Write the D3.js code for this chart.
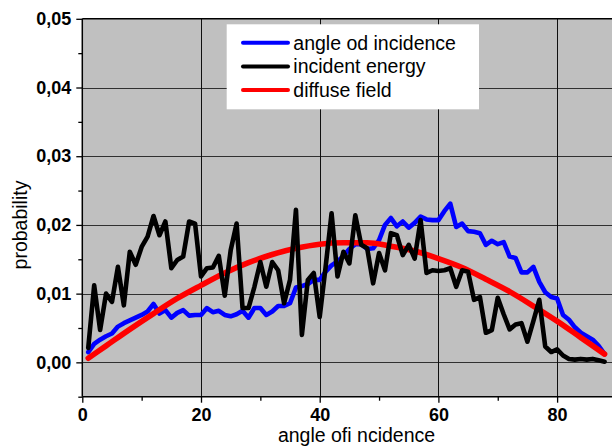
<!DOCTYPE html>
<html>
<head>
<meta charset="utf-8">
<script src="https://cdn.jsdelivr.net/npm/d3@7"></script>
<style>
  body { margin: 0; background: #fff; }
  svg { display: block; font-family: "Liberation Sans", Arial, sans-serif; }
</style>
</head>
<body>
<svg id="chart" width="612" height="447"></svg>
<script>
// DATA SECTION

// angles 1..88 degrees
const angles = d3.range(1, 89);

// angle od incidence (blue)
const angleOd = [
  0.0015, 0.0027, 0.0033, 0.0038, 0.0042, 0.0052, 0.0057, 0.0061, 0.0065, 0.0069,
  0.0074, 0.0085, 0.0071, 0.0076, 0.0065, 0.0072, 0.0076, 0.0068, 0.0069, 0.0069,
  0.0079, 0.0073, 0.0075, 0.0069, 0.0067, 0.0070, 0.0075, 0.0065, 0.0079, 0.0079,
  0.0069, 0.0074, 0.0082, 0.0082, 0.0086, 0.0109, 0.0111, 0.0114, 0.0120, 0.0120,
  0.0132, 0.0141, 0.0147, 0.0155, 0.0165, 0.0172, 0.0172, 0.0165, 0.0166, 0.0178,
  0.0200, 0.0210, 0.0198, 0.0205, 0.0196, 0.0203, 0.0212, 0.0208, 0.0207, 0.0207,
  0.0220, 0.0231, 0.0197, 0.0202, 0.0191, 0.0190, 0.0188, 0.0171, 0.0177, 0.0172,
  0.0175, 0.0154, 0.0152, 0.0131, 0.0131, 0.0139, 0.0117, 0.0102, 0.0095, 0.0093,
  0.0069, 0.0062, 0.0051, 0.0043, 0.0038, 0.0033, 0.0024, 0.0012
];

// incident energy (black)
const incidentEnergy = [
  0.0021, 0.0112, 0.0047, 0.0100, 0.0088, 0.0139, 0.0083, 0.0161, 0.0142, 0.0168,
  0.0183, 0.0213, 0.0185, 0.0205, 0.0137, 0.0149, 0.0154, 0.0205, 0.0202, 0.0125,
  0.0137, 0.0138, 0.0155, 0.0097, 0.0163, 0.0202, 0.0079, 0.0079, 0.0110, 0.0146,
  0.0110, 0.0146, 0.0134, 0.0086, 0.0120, 0.0222, 0.0040, 0.0120, 0.0130, 0.0066,
  0.0139, 0.0217, 0.0125, 0.0161, 0.0144, 0.0214, 0.0171, 0.0166, 0.0115, 0.0159,
  0.0134, 0.0188, 0.0185, 0.0156, 0.0171, 0.0151, 0.0207, 0.0130, 0.0134, 0.0133,
  0.0134, 0.0137, 0.0110, 0.0134, 0.0132, 0.0091, 0.0095, 0.0043, 0.0047, 0.0094,
  0.0070, 0.0048, 0.0055, 0.0057, 0.0030, 0.0060, 0.0091, 0.0023, 0.0015, 0.0019,
  0.0010, 0.0005, 0.0004, 0.0005, 0.0004, 0.0005, 0.0003, 0.0001
];

// diffuse field (red), read at every 4 degrees
const diffuseAngles = [1, 4, 8, 12, 16, 20, 24, 28, 32, 36, 40, 44, 48, 52, 56, 60, 64, 68, 72, 76, 80, 84, 88];
const diffuseField = [
  0.0006, 0.0024, 0.0048, 0.0071, 0.0093, 0.0112, 0.0130, 0.0145, 0.0157, 0.0166,
  0.0172, 0.0174, 0.0174, 0.0169, 0.0162, 0.0151, 0.0138, 0.0121, 0.0103, 0.0082,
  0.0060, 0.0036, 0.0012
];

const xTicks = [0, 20, 40, 60, 80];
const xMinor = [10, 30, 50, 70];
const yTicks = [0, 0.01, 0.02, 0.03, 0.04, 0.05];
const yMinor = [-0.005, 0.005, 0.015, 0.025, 0.035, 0.045];

const seriesNames = ['angle od incidence', 'incident energy', 'diffuse field'];
const seriesColors = ['#0000ff', '#000000', '#ff0000'];


// RENDER SECTION

const svg = d3.select('#chart');

let x = d3.scaleLinear()
  .domain([0, 90])
  .range([82.3, 82.3 + 90 * 5.935]);

let y = d3.scaleLinear()
  .domain([-0.005, 0.05])
  .range([396.7, 18.8]);

const comma = d3.formatLocale({decimal: ',', thousands: '.', grouping: [3], currency: ['', '']});

// plot background
svg.append('rect')
  .attr('x', x(0))
  .attr('y', y(0.05))
  .attr('width', x.range()[1] - x(0))
  .attr('height', y(-0.005) - y(0.05))
  .attr('fill', '#c0c0c0');

// grid
svg.append('g')
  .attr('class', 'grid-y')
  .selectAll('line')
  .data(yTicks.slice(0, -1))
  .enter().append('line')
  .attr('x1', x(0))
  .attr('x2', x.range()[1])
  .attr('y1', d => Math.round(y(d)) + 0.5)
  .attr('y2', d => Math.round(y(d)) + 0.5)
  .attr('stroke', '#303030')
  .attr('stroke-width', 1.2);

svg.append('g')
  .attr('class', 'grid-x')
  .selectAll('line')
  .data(xTicks.slice(1))
  .enter().append('line')
  .attr('x1', d => Math.round(x(d)) + 0.5)
  .attr('x2', d => Math.round(x(d)) + 0.5)
  .attr('y1', y(0.05))
  .attr('y2', y(-0.005))
  .attr('stroke', '#101010')
  .attr('stroke-width', 1);

// series
const lineData = [
  angles.map((a, i) => [a, angleOd[i]]),
  angles.map((a, i) => [a, incidentEnergy[i]]),
  diffuseAngles.map((a, i) => [a, diffuseField[i]])
];

let line = d3.line()
  .x(d => x(d[0]))
  .y(d => y(d[1]));

let smooth = d3.line()
  .x(d => x(d[0]))
  .y(d => y(d[1]))
  .curve(d3.curveMonotoneX);

const drawOrder = [0, 2, 1];
const widths = [4.6, 4.6, 5.6];
drawOrder.forEach(function(i) {
  svg.append('path')
    .datum(lineData[i])
    .attr('fill', 'none')
    .attr('stroke', seriesColors[i])
    .attr('stroke-width', widths[i])
    .attr('stroke-linejoin', 'round')
    .attr('stroke-linecap', 'round')
    .attr('d', i === 2 ? smooth : line);
});

// frame (top border)
svg.append('line')
  .attr('x1', x(0))
  .attr('x2', 612)
  .attr('y1', y(0.05))
  .attr('y2', y(0.05))
  .attr('stroke', '#000')
  .attr('stroke-width', 1.5);

// axes
const styleAxis = function(g) {
  g.select('.domain').remove();
  g.selectAll('.tick line').attr('stroke', '#000').attr('stroke-width', 1.3);
  g.selectAll('.tick text')
    .attr('font-family', '"Liberation Sans", Arial, sans-serif')
    .attr('font-size', 18)
    .attr('font-weight', 'bold')
    .attr('fill', '#000');
};

svg.append('g')
  .attr('transform', `translate(${x(0)},0)`)
  .call(d3.axisLeft(y).tickValues(yTicks).tickSize(6).tickPadding(5).tickFormat(comma.format('.2f')))
  .call(styleAxis);

svg.append('g')
  .attr('transform', `translate(${x(0)},0)`)
  .call(d3.axisLeft(y).tickValues(yMinor).tickSize(4).tickFormat(''))
  .call(styleAxis);

svg.append('g')
  .attr('transform', `translate(0,${y(-0.005)})`)
  .call(d3.axisBottom(x).tickValues(xTicks).tickSize(6).tickPadding(6).tickFormat(d3.format('d')))
  .call(styleAxis);

svg.append('g')
  .attr('transform', `translate(0,${y(-0.005)})`)
  .call(d3.axisBottom(x).tickValues(xMinor).tickSize(4).tickFormat(''))
  .call(styleAxis);

// axis lines
svg.append('line')
  .attr('x1', x(0)).attr('x2', x(0))
  .attr('y1', y(0.05)).attr('y2', y(-0.005))
  .attr('stroke', '#000').attr('stroke-width', 1.5);
svg.append('line')
  .attr('x1', x(0)).attr('x2', 612)
  .attr('y1', y(-0.005)).attr('y2', y(-0.005))
  .attr('stroke', '#000').attr('stroke-width', 1.5);

// axis titles
svg.append('text')
  .attr('x', 356.5)
  .attr('y', 442)
  .attr('text-anchor', 'middle')
  .attr('font-size', 19.5)
  .text('angle ofi ncidence');

svg.append('text')
  .attr('transform', 'translate(27,225) rotate(-90)')
  .attr('text-anchor', 'middle')
  .attr('font-size', 19.5)
  .text('probability');

// legend
let legend = svg.append('g').attr('class', 'legend');
legend.append('rect')
  .attr('x', 226.7)
  .attr('y', 24.3)
  .attr('width', 252.3)
  .attr('height', 85)
  .attr('fill', '#fff');

seriesNames.forEach(function(name, i) {
  let ly = 42.7 + i * 23.7;
  legend.append('line')
    .attr('x1', 243).attr('x2', 288)
    .attr('y1', ly).attr('y2', ly)
    .attr('stroke', seriesColors[i])
    .attr('stroke-width', 4)
    .attr('stroke-linecap', 'round');
  legend.append('text')
    .attr('x', 293.3)
    .attr('y', ly + 7)
    .attr('font-size', 19.5)
    .text(name);
});
</script>
</body>
</html>
